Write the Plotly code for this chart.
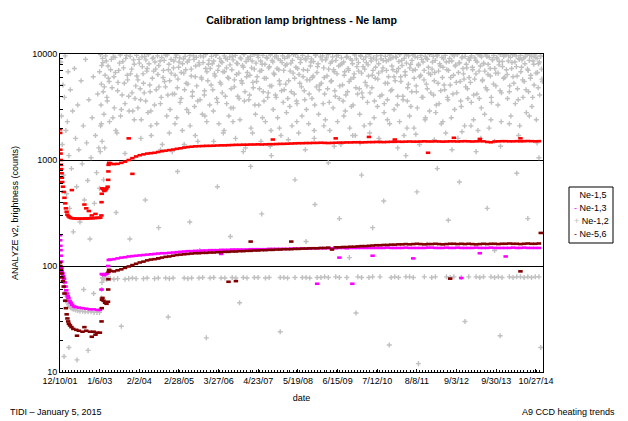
import numpy as np
import pandas as pd
import plotly.graph_objects as go

# x positions are kept as decimal years and converted to dates below

tick_dates = ['2001-12-10', '2003-01-06', '2004-02-02', '2005-02-28', '2006-03-27',
              '2007-04-23', '2008-05-19', '2009-06-15', '2010-07-12', '2011-08-08',
              '2012-09-03', '2013-09-30', '2014-10-27']
tick_labels = ['12/10/01', '1/6/03', '2/2/04', '2/28/05', '3/27/06', '4/23/07', '5/19/08',
               '6/15/09', '7/12/10', '8/8/11', '9/3/12', '9/30/13', '10/27/14']
y_ticks = [10, 100, 1000, 10000]

series_names = ['Ne-1,5', 'Ne-1,3', 'Ne-1,2', 'Ne-5,6']
series_colors = ['#ff0000', '#ff00ff', '#c0c0c0', '#800000']

#%% early period (2001-2003), read point by point

red_early_t = [2001.94, 2001.945, 2001.95, 2001.955, 2001.96, 2001.965, 2001.97, 2001.98, 2001.99,
               2002.0, 2002.02, 2002.04, 2002.06, 2002.08, 2002.1, 2002.12, 2002.14, 2002.17, 2002.2,
               2002.24, 2002.28, 2002.33, 2002.38, 2002.43, 2002.48, 2002.53, 2002.58, 2002.63,
               2002.68, 2002.73, 2002.78, 2002.83, 2002.88, 2002.93, 2002.98, 2003.03,
               2003.06, 2003.065, 2003.07, 2003.08, 2003.11, 2003.14, 2003.17, 2003.2, 2003.23,
               2003.245, 2003.25, 2003.255, 2003.27,
               2002.26, 2002.6, 2002.65, 2002.72, 2002.8, 2002.9]
red_early_v = [1950, 1800, 1250, 1150, 1000, 900, 820, 750, 680,
               620, 560, 500, 440, 390, 350, 325, 305, 295, 288,
               284, 282, 281, 280, 279, 280, 279, 280, 281,
               280, 282, 283, 282, 284, 285, 284, 286,
               300, 400, 480, 540, 530, 510, 520, 540, 560,
               650, 780, 900, 940,
               520, 380, 350, 330, 300, 310]

mag_early_t = [2001.94, 2001.945, 2001.95, 2001.955, 2001.96, 2001.97, 2001.98, 2001.99, 2002.01,
               2002.03, 2002.05, 2002.07, 2002.09, 2002.11, 2002.13, 2002.15, 2002.17, 2002.2,
               2002.23, 2002.27, 2002.32, 2002.37, 2002.45, 2002.55, 2002.65, 2002.75, 2002.85,
               2002.95, 2003.02, 2003.065, 2003.07, 2003.1, 2003.14, 2003.18, 2003.22, 2003.245,
               2003.26]
mag_early_v = [195, 175, 155, 141, 125, 110, 96, 90, 85,
               80, 76, 70, 64, 59, 55, 52, 50, 47,
               45, 43, 41.5, 41, 40.5, 40, 39.5, 39, 39,
               38.5, 38.5, 60, 84, 83, 82, 84, 85, 100,
               114]

dred_early_t = [2001.94, 2001.95, 2001.96, 2001.98, 2002.0, 2002.02, 2002.04, 2002.06, 2002.08,
                2002.1, 2002.12, 2002.14, 2002.16, 2002.18, 2002.21, 2002.25, 2002.3, 2002.38,
                2002.45, 2002.55, 2002.65, 2002.75, 2002.85, 2002.95, 2003.02,
                2003.065, 2003.07, 2003.075, 2003.09, 2003.12, 2003.16, 2003.2, 2003.24,
                2003.245, 2003.25, 2003.255, 2003.27,
                2002.4, 2002.6, 2002.8, 2002.9]
dred_early_v = [108, 100, 92, 85, 78, 72, 64, 55, 47,
                40, 35, 32, 30, 28.5, 27.5, 26.5, 25.5, 25,
                24.5, 24, 24.5, 24, 24, 23.5, 23.5,
                30, 40, 48, 50, 47, 45, 44, 46,
                60, 75, 88, 92,
                22, 26.5, 21.5, 22.5]

gray_early_t = [2001.94, 2001.95, 2001.96, 2001.98, 2002.0, 2002.02, 2002.04, 2002.06, 2002.08,
                2002.1, 2002.12, 2002.14, 2002.17, 2002.2, 2002.23, 2002.27, 2002.31, 2002.36,
                2002.42, 2002.48, 2002.55, 2002.62, 2002.7, 2002.78, 2002.86, 2002.94, 2003.01,
                2003.065, 2003.07, 2003.075, 2003.09, 2003.12, 2003.16, 2003.2, 2003.24]
gray_early_v = [100, 98, 96, 92, 86, 80, 72, 64, 57,
                52, 48, 45, 43, 41.5, 40.5, 39.5, 39, 38.5,
                38, 37.5, 37.5, 37, 37, 37, 36.5, 36.5, 36.5,
                50, 60, 70, 77, 75, 76, 75, 76]

#%% main period, one reading every 0.1 yr from 2003.3 to 2014.9

red_main = [930, 915, 920, 940, 965, 1000, 1040,
            1080, 1110, 1130, 1150, 1160, 1170, 1190, 1210, 1225, 1240,
            1255, 1275, 1290, 1310, 1325, 1335, 1345, 1350, 1355, 1360,
            1360, 1365, 1370, 1375, 1375, 1380, 1385, 1390, 1390, 1395,
            1395, 1400, 1400, 1405, 1400, 1405, 1410, 1410, 1415, 1420,
            1420, 1425, 1430, 1435, 1440, 1440, 1445, 1445, 1450, 1450,
            1455, 1450, 1445, 1450, 1455, 1460, 1460, 1465, 1465, 1470,
            1470, 1465, 1470, 1475, 1475, 1480, 1480, 1475, 1480, 1485,
            1485, 1490, 1485, 1490, 1495, 1490, 1490, 1495, 1500, 1495,
            1495, 1500, 1495, 1490, 1495, 1500, 1500, 1495, 1500, 1505,
            1500, 1495, 1500, 1505, 1500, 1480, 1470, 1495, 1500, 1505,
            1505, 1500, 1500, 1505, 1500, 1505, 1510, 1505, 1500, 1505]

mag_main = [115, 116, 118, 120, 121, 123, 124,
            125, 126, 127, 128, 129, 130, 131, 132, 132, 133,
            134, 135, 136, 137, 138, 138, 139, 139, 140, 140,
            141, 141, 141, 142, 142, 142, 143, 143, 143, 143,
            143, 144, 144, 144, 144, 144, 145, 145, 145, 145,
            145, 145, 146, 146, 146, 146, 146, 146, 147, 147,
            147, 147, 147, 147, 147, 148, 148, 147, 148, 148,
            148, 148, 148, 148, 148, 148, 148, 148, 149, 148,
            148, 148, 148, 149, 148, 148, 148, 148, 148, 149,
            149, 148, 148, 148, 149, 148, 148, 149, 148, 148,
            148, 148, 149, 148, 148, 148, 149, 148, 148, 148,
            148, 148, 149, 148, 148, 149, 148, 148, 148, 148]

dred_main = [90, 89, 91, 93, 96, 99, 102,
             105, 108, 110, 113, 115, 116, 118, 120, 122, 123,
             125, 127, 128, 129, 130, 131, 132, 132, 133, 133,
             134, 134, 135, 135, 136, 136, 137, 137, 138, 138,
             139, 139, 140, 140, 141, 141, 142, 142, 143, 143,
             144, 144, 144, 145, 145, 146, 146, 147, 147, 147,
             148, 148, 149, 143, 150, 150, 151, 151, 152, 152,
             153, 154, 154, 155, 156, 157, 157, 158, 158, 159,
             159, 160, 160, 161, 160, 161, 162, 161, 160, 161,
             161, 162, 161, 160, 161, 162, 162, 161, 162, 161,
             162, 161, 160, 161, 162, 161, 162, 162, 161, 162,
             162, 163, 162, 162, 161, 162, 163, 162, 162, 163]

gray_band = [76, 75, 76, None, 75, 76, 77,
             76, None, 76, 77, None, 76, 77, None, 77, 76,
             77, None, None, 77, 76, 77, None, 77, 78, None,
             77, 78, None, 77, 77, None, 78, 77, None, 78,
             77, None, 78, 78, None, 77, 78, None, None, 78,
             78, 77, None, 78, None, 78, 78, 77, None, 78,
             78, 79, 78, None, 79, 78, None, 78, None, None,
             79, 78, None, 78, 79, None, 79, None, None, 78,
             79, 78, None, 79, 79, 78, None, None, 79, None,
             78, 79, None, None, 79, 78, 79, None, 78, None,
             79, None, 79, 78, 79, None, 79, 78, 79, 78,
             None, 79, 78, 79, 79, 78, 79, 78, 79, 79]

# stray points of the coloured series
red_out_t = [2003.8, 2003.9, 2007.7, 2009.4, 2010.3, 2011.0, 2011.9, 2012.6, 2013.3, 2014.4]
red_out_v = [1600, 740, 1560, 1600, 1650, 1560, 1170, 1620, 1580, 1600]
mag_out_t = [2004.6, 2006.3, 2008.9, 2009.5, 2009.85, 2010.4, 2011.5, 2012.8, 2013.3, 2014.0]
mag_out_v = [118, 130, 68, 120, 68, 125, 118, 77, 132, 123]
dred_out_t = [2006.5, 2006.7, 2007.1, 2008.2, 2012.5, 2014.4, 2014.95]
dred_out_v = [71, 72, 170, 170, 76, 89, 205]

#%% Ne-1,2 scatter (grey crosses)

gray_t = [2001.96, 2001.98, 2002.0, 2002.02, 2002.04, 2002.06, 2002.08, 2002.1, 2002.12, 2002.14,
          2002.16, 2002.18, 2002.2, 2002.22, 2002.25, 2002.28, 2002.3, 2002.33, 2002.36, 2002.39,
          2002.42, 2002.45, 2002.48, 2002.51, 2002.54, 2002.57, 2002.6, 2002.63, 2002.66, 2002.69,
          2002.72, 2002.75, 2002.78, 2002.81, 2002.84, 2002.87, 2002.9, 2002.93, 2002.96, 2002.99,
          2003.01, 2002.05, 2002.18, 2002.4, 2002.58, 2002.7, 2002.85,
          # 2003
          2003.03, 2003.04, 2003.05, 2003.06, 2003.07, 2003.08, 2003.09, 2003.11, 2003.13, 2003.16,
          2003.19, 2003.22, 2003.25, 2003.28, 2003.31, 2003.35, 2003.38, 2003.41, 2003.44, 2003.48,
          2003.51, 2003.55, 2003.58, 2003.62, 2003.66, 2003.7, 2003.74, 2003.77, 2003.81, 2003.85,
          2003.89, 2003.93, 2003.97, 2003.12, 2003.46, 2003.83, 2003.6,
          # 2004
          2004.02, 2004.05, 2004.08, 2004.11, 2004.14, 2004.17, 2004.2, 2004.23, 2004.26, 2004.29,
          2004.32, 2004.35, 2004.38, 2004.41, 2004.44, 2004.47, 2004.5, 2004.53, 2004.56, 2004.59,
          2004.62, 2004.65, 2004.68, 2004.71, 2004.74, 2004.77, 2004.8, 2004.83, 2004.86, 2004.89,
          2004.92, 2004.95, 2004.98, 2004.25, 2004.61, 2004.87,
          # 2005
          2005.01, 2005.04, 2005.07, 2005.1, 2005.13, 2005.16, 2005.19, 2005.22, 2005.25, 2005.28,
          2005.31, 2005.34, 2005.37, 2005.4, 2005.43, 2005.46, 2005.49, 2005.52, 2005.55, 2005.58,
          2005.61, 2005.64, 2005.67, 2005.7, 2005.73, 2005.76, 2005.79, 2005.82, 2005.85, 2005.88,
          2005.91, 2005.94, 2005.97, 2005.12, 2005.45, 2005.72, 2005.9,
          # 2006
          2006.03, 2006.06, 2006.09, 2006.12, 2006.15, 2006.18, 2006.21, 2006.24, 2006.27, 2006.3,
          2006.33, 2006.36, 2006.39, 2006.42, 2006.45, 2006.48, 2006.51, 2006.54, 2006.57, 2006.6,
          2006.63, 2006.66, 2006.69, 2006.72, 2006.75, 2006.78, 2006.81, 2006.84, 2006.87, 2006.9,
          2006.93, 2006.96, 2006.99, 2006.2, 2006.55, 2006.8,
          # 2007
          2007.02, 2007.05, 2007.08, 2007.11, 2007.14, 2007.17, 2007.2, 2007.23, 2007.26, 2007.29,
          2007.32, 2007.35, 2007.38, 2007.41, 2007.44, 2007.47, 2007.5, 2007.53, 2007.56, 2007.59,
          2007.62, 2007.65, 2007.68, 2007.71, 2007.74, 2007.77, 2007.8, 2007.83, 2007.86, 2007.89,
          2007.92, 2007.95, 2007.98, 2007.1, 2007.4, 2007.66, 2007.9,
          # 2008
          2008.01, 2008.04, 2008.07, 2008.1, 2008.13, 2008.16, 2008.19, 2008.22, 2008.25, 2008.28,
          2008.31, 2008.34, 2008.37, 2008.4, 2008.43, 2008.46, 2008.49, 2008.52, 2008.55, 2008.58,
          2008.61, 2008.64, 2008.67, 2008.7, 2008.73, 2008.76, 2008.79, 2008.82, 2008.85, 2008.88,
          2008.91, 2008.94, 2008.97, 2008.3, 2008.6, 2008.84,
          # 2009
          2009.03, 2009.06, 2009.09, 2009.12, 2009.15, 2009.18, 2009.21, 2009.24, 2009.27, 2009.3,
          2009.33, 2009.36, 2009.39, 2009.42, 2009.45, 2009.48, 2009.51, 2009.54, 2009.57, 2009.6,
          2009.63, 2009.66, 2009.69, 2009.72, 2009.75, 2009.78, 2009.81, 2009.84, 2009.87, 2009.9,
          2009.93, 2009.96, 2009.99, 2009.2, 2009.5, 2009.77, 2009.95,
          # 2010
          2010.02, 2010.05, 2010.08, 2010.11, 2010.14, 2010.17, 2010.2, 2010.23, 2010.26, 2010.29,
          2010.32, 2010.35, 2010.38, 2010.41, 2010.44, 2010.47, 2010.5, 2010.53, 2010.56, 2010.59,
          2010.62, 2010.65, 2010.68, 2010.71, 2010.74, 2010.77, 2010.8, 2010.83, 2010.86, 2010.89,
          2010.92, 2010.95, 2010.98, 2010.1, 2010.4, 2010.7, 2010.85,
          # 2011
          2011.01, 2011.04, 2011.07, 2011.1, 2011.13, 2011.16, 2011.19, 2011.22, 2011.25, 2011.28,
          2011.31, 2011.34, 2011.37, 2011.4, 2011.43, 2011.46, 2011.49, 2011.52, 2011.55, 2011.58,
          2011.61, 2011.64, 2011.67, 2011.7, 2011.73, 2011.76, 2011.79, 2011.82, 2011.85, 2011.88,
          2011.91, 2011.94, 2011.97, 2011.3, 2011.6, 2011.64, 2011.88,
          # 2012
          2012.02, 2012.05, 2012.08, 2012.11, 2012.14, 2012.17, 2012.2, 2012.23, 2012.26, 2012.29,
          2012.32, 2012.35, 2012.38, 2012.41, 2012.44, 2012.47, 2012.5, 2012.53, 2012.56, 2012.59,
          2012.62, 2012.65, 2012.68, 2012.71, 2012.74, 2012.77, 2012.8, 2012.83, 2012.86, 2012.89,
          2012.92, 2012.95, 2012.98, 2012.15, 2012.45, 2012.75, 2012.9,
          # 2013
          2013.01, 2013.04, 2013.07, 2013.1, 2013.13, 2013.16, 2013.19, 2013.22, 2013.25, 2013.28,
          2013.31, 2013.34, 2013.37, 2013.4, 2013.43, 2013.46, 2013.49, 2013.52, 2013.55, 2013.58,
          2013.61, 2013.64, 2013.67, 2013.7, 2013.73, 2013.76, 2013.79, 2013.82, 2013.85, 2013.88,
          2013.91, 2013.94, 2013.97, 2013.2, 2013.5, 2013.7, 2013.85,
          # 2014
          2014.02, 2014.05, 2014.08, 2014.11, 2014.14, 2014.17, 2014.2, 2014.23, 2014.26, 2014.29,
          2014.32, 2014.35, 2014.38, 2014.41, 2014.44, 2014.47, 2014.5, 2014.53, 2014.56, 2014.59,
          2014.62, 2014.65, 2014.68, 2014.71, 2014.74, 2014.77, 2014.8, 2014.83, 2014.86, 2014.89,
          2014.92, 2014.95, 2014.98, 2014.3, 2014.6, 2014.9, 2014.95]

gray_v = [8400, 2600, 1400, 5100, 720, 3900, 9600, 1900, 480, 2300,
          6800, 1100, 350, 4600, 830, 2900, 210, 7300, 1600, 560,
          3300, 1250, 260, 5600, 920, 2100, 420, 8900, 1450, 640,
          3700, 180, 1050, 2500, 6100, 390, 1700, 760, 4200, 1300,
          540, 14, 17, 13, 60, 16, 55,
          # 2003
          1200, 2100, 3300, 5200, 7800, 1500, 9100, 4400, 2700, 6300,
          8600, 3600, 5900, 2300, 7100, 4800, 9400, 3100, 6700, 1800,
          5400, 8200, 2600, 4100, 7400, 3400, 9700, 5700, 2900, 6500,
          4300, 8800, 3800, 650, 320, 180, 27,
          # 2004
          6200, 3100, 8900, 4700, 2400, 7600, 5300, 9500, 3600, 6900,
          2800, 8100, 4400, 1700, 5900, 9200, 3300, 7200, 2200, 6400,
          4900, 8600, 3900, 1400, 7000, 5500, 9800, 2600, 4100, 8000,
          3000, 6600, 1200, 420, 230, 33,
          # 2005
          7400, 4200, 9300, 2500, 5800, 8400, 3500, 6700, 1900, 9000,
          4600, 7100, 3000, 5200, 8800, 2100, 6200, 4000, 9600, 3200,
          7700, 5000, 1500, 8300, 3700, 6000, 2700, 9400, 4500, 7300,
          2300, 5600, 8700, 780, 260, 140, 21,
          # 2006
          5100, 8100, 2900, 6500, 9700, 3800, 7000, 2200, 5400, 8500,
          4300, 1800, 6800, 9100, 3400, 6000, 2600, 7900, 4700, 9500,
          3100, 5700, 1600, 8200, 4000, 6600, 2400, 9000, 5300, 7500,
          3600, 1300, 6100, 560, 190, 45,
          # 2007
          9200, 3700, 6300, 2000, 8600, 4800, 7200, 2700, 5500, 9800,
          3300, 6900, 1500, 8000, 4400, 5900, 2300, 9300, 3900, 7400,
          5000, 1900, 8700, 3000, 6400, 4100, 9600, 2500, 7100, 5200,
          1700, 8300, 3500, 870, 310, 1100, 24,
          # 2008
          4600, 7800, 2800, 9400, 5600, 3200, 8200, 2100, 6600, 4200,
          9900, 3600, 7300, 1800, 5300, 8900, 2600, 6100, 4500, 9100,
          3000, 7000, 2200, 5700, 8400, 3800, 6200, 1600, 9700, 4900,
          7600, 2700, 5100, 650, 170, 380,
          # 2009
          8800, 3400, 6000, 2400, 9200, 4700, 7200, 1900, 5500, 8500,
          3100, 6800, 4000, 9600, 2300, 7700, 5000, 1400, 8100, 3600,
          6300, 2900, 9300, 4400, 7000, 2000, 5800, 8700, 3300, 6500,
          1700, 9000, 4200, 940, 280, 120, 36,
          # 2010
          6900, 2700, 9500, 4300, 7600, 2100, 5400, 8300, 3500, 6200,
          1800, 9100, 4800, 7000, 2500, 5900, 8800, 3200, 6600, 1500,
          9700, 4100, 7400, 2800, 5300, 8600, 3700, 6100, 2200, 9000,
          4600, 7100, 3000, 720, 230, 410, 18,
          # 2011
          5600, 9300, 3300, 7300, 2300, 6100, 8700, 4000, 1700, 6800,
          9800, 3600, 5200, 2600, 8000, 4400, 7000, 2000, 9400, 5000,
          3100, 7800, 1400, 6300, 8900, 3900, 5700, 2400, 9100, 4700,
          7500, 2900, 6400, 1100, 500, 12, 160,
          # 2012
          8400, 4100, 6700, 2800, 9600, 5300, 3400, 7700, 2200, 6000,
          9000, 4600, 1800, 7100, 3700, 8500, 5100, 2500, 9900, 6300,
          3000, 7900, 4300, 1600, 8200, 5500, 3200, 9400, 6500, 2100,
          4900, 7400, 3800, 830, 270, 620, 30,
          # 2013
          6000, 9200, 3500, 7500, 2400, 5800, 8700, 4200, 1900, 6900,
          9700, 3100, 5600, 8100, 2700, 4800, 9500, 6400, 2000, 7300,
          3900, 8900, 5200, 1500, 6600, 9300, 3300, 7900, 4500, 2300,
          8500, 5900, 9800, 1200, 350, 140, 22,
          # 2014
          7100, 3800, 9600, 5000, 2600, 8300, 6100, 9900, 3400, 7600,
          4700, 9100, 2100, 6800, 8800, 3900, 5500, 9400, 2800, 7200,
          4400, 9700, 6300, 3200, 8600, 5100, 9300, 2400, 6700, 8100,
          4100, 9500, 5800, 750, 280, 1050, 17]

# second pass over the dense upper cloud (3000-10000) after 2003
gray_top_t = [
    2003.01, 2003.035, 2003.06, 2003.1, 2003.14, 2003.175, 2003.21, 2003.24, 2003.27, 2003.33,
    2003.37, 2003.4, 2003.43, 2003.5, 2003.53, 2003.57, 2003.6, 2003.64, 2003.68, 2003.72,
    2003.76, 2003.8, 2003.84, 2003.88, 2003.91, 2003.95, 2003.99,
    2004.015, 2004.05, 2004.09, 2004.12, 2004.16, 2004.19, 2004.22, 2004.265, 2004.3, 2004.33,
    2004.37, 2004.4, 2004.44, 2004.475, 2004.51, 2004.545, 2004.58, 2004.615, 2004.66, 2004.695,
    2004.73, 2004.76, 2004.795, 2004.84, 2004.875, 2004.91, 2004.945, 2004.985,
    2005.02, 2005.055, 2005.085, 2005.115, 2005.15, 2005.18, 2005.215, 2005.255, 2005.29, 2005.325,
    2005.355, 2005.385, 2005.42, 2005.455, 2005.49, 2005.525, 2005.565, 2005.6, 2005.63, 2005.665,
    2005.705, 2005.74, 2005.775, 2005.81, 2005.845, 2005.88, 2005.915, 2005.955, 2005.99,
    2006.005, 2006.04, 2006.075, 2006.1, 2006.135, 2006.165, 2006.2, 2006.235, 2006.26, 2006.295,
    2006.325, 2006.35, 2006.385, 2006.415, 2006.445, 2006.47, 2006.505, 2006.535, 2006.565, 2006.59,
    2006.625, 2006.655, 2006.685, 2006.715, 2006.745, 2006.785, 2006.815, 2006.85, 2006.88, 2006.915,
    2006.945, 2006.975,
    2007.01, 2007.04, 2007.07, 2007.095, 2007.125, 2007.16, 2007.19, 2007.215, 2007.245, 2007.275,
    2007.305, 2007.34, 2007.37, 2007.395, 2007.43, 2007.46, 2007.485, 2007.52, 2007.545, 2007.575,
    2007.61, 2007.635, 2007.67, 2007.7, 2007.725, 2007.755, 2007.79, 2007.815, 2007.845, 2007.875,
    2007.905, 2007.935, 2007.965, 2007.995,
    2008.02, 2008.05, 2008.08, 2008.105, 2008.14, 2008.17, 2008.2, 2008.23, 2008.26, 2008.29,
    2008.325, 2008.355, 2008.38, 2008.41, 2008.445, 2008.475, 2008.505, 2008.53, 2008.565, 2008.595,
    2008.625, 2008.655, 2008.685, 2008.715, 2008.745, 2008.775, 2008.8, 2008.835, 2008.865, 2008.895,
    2008.925, 2008.955, 2008.985,
    2009.01, 2009.045, 2009.075, 2009.1, 2009.13, 2009.165, 2009.195, 2009.225, 2009.255, 2009.285,
    2009.315, 2009.345, 2009.375, 2009.405, 2009.435, 2009.465, 2009.495, 2009.525, 2009.555, 2009.585,
    2009.615, 2009.645, 2009.675, 2009.705, 2009.735, 2009.765, 2009.795, 2009.825, 2009.855, 2009.885,
    2009.915, 2009.945, 2009.975,
    2010.015, 2010.04, 2010.07, 2010.1, 2010.13, 2010.155, 2010.185, 2010.215, 2010.245, 2010.275,
    2010.305, 2010.33, 2010.36, 2010.39, 2010.42, 2010.45, 2010.48, 2010.51, 2010.54, 2010.565,
    2010.595, 2010.625, 2010.655, 2010.685, 2010.715, 2010.745, 2010.775, 2010.805, 2010.83, 2010.86,
    2010.89, 2010.92, 2010.95, 2010.98,
    2011.02, 2011.05, 2011.08, 2011.11, 2011.135, 2011.165, 2011.195, 2011.225, 2011.255, 2011.285,
    2011.315, 2011.345, 2011.375, 2011.405, 2011.435, 2011.465, 2011.495, 2011.525, 2011.555, 2011.585,
    2011.615, 2011.645, 2011.675, 2011.705, 2011.735, 2011.765, 2011.795, 2011.825, 2011.855, 2011.885,
    2011.915, 2011.945, 2011.975,
    2012.01, 2012.04, 2012.07, 2012.095, 2012.125, 2012.155, 2012.185, 2012.215, 2012.245, 2012.275,
    2012.305, 2012.335, 2012.365, 2012.395, 2012.425, 2012.455, 2012.485, 2012.515, 2012.545, 2012.575,
    2012.605, 2012.635, 2012.665, 2012.695, 2012.725, 2012.755, 2012.785, 2012.815, 2012.845, 2012.875,
    2012.905, 2012.935, 2012.965, 2012.995,
    2013.015, 2013.045, 2013.075, 2013.105, 2013.135, 2013.165, 2013.195, 2013.225, 2013.255, 2013.285,
    2013.315, 2013.345, 2013.375, 2013.405, 2013.435, 2013.465, 2013.495, 2013.525, 2013.555, 2013.585,
    2013.615, 2013.645, 2013.675, 2013.705, 2013.735, 2013.765, 2013.795, 2013.825, 2013.855, 2013.885,
    2013.915, 2013.945, 2013.975,
    2014.01, 2014.04, 2014.07, 2014.1, 2014.13, 2014.16, 2014.19, 2014.22, 2014.25, 2014.28,
    2014.31, 2014.34, 2014.37, 2014.4, 2014.43, 2014.46, 2014.49, 2014.52, 2014.55, 2014.58,
    2014.61, 2014.64, 2014.67, 2014.7, 2014.73, 2014.76, 2014.79, 2014.82, 2014.85, 2014.88,
    2014.91, 2014.94, 2014.97, 2014.995]

gray_top_v = [
    6800, 9900, 2200, 8300, 4900, 9600, 3900, 7700, 5500, 8900,
    2500, 6100, 9300, 4500, 7000, 9800, 3000, 8500, 5300, 9100,
    6300, 4000, 9500, 7200, 2900, 8000, 5000,
    9700, 5700, 8200, 3700, 9400, 6500, 4300, 8800, 7300, 9900,
    5100, 2900, 9100, 6900, 8400, 4600, 9600, 7800, 3400, 9300,
    6000, 8700, 4900, 9800, 7100, 5600, 8900, 4200,
    8600, 6300, 9800, 4800, 7500, 9200, 3800, 8100, 6600, 9500,
    5300, 8400, 2800, 9700, 7200, 4400, 8900, 6100, 9300, 3600,
    7900, 9600, 5800, 8300, 4100, 9900, 6800, 8000, 3300,
    7300, 9500, 4600, 8600, 6200, 9800, 3500, 7700, 9100, 5200,
    8300, 6800, 9600, 4000, 7400, 8900, 5900, 9400, 3100, 7100,
    8800, 4900, 9700, 6400, 8100, 3800, 9200, 5600, 7800, 9900,
    4400, 8500,
    6700, 8900, 4100, 9500, 7400, 5400, 9900, 3300, 8200, 6100,
    9300, 4700, 8600, 7000, 9700, 3600, 8000, 5900, 9100, 4300,
    7600, 9800, 5000, 8400, 6600, 9400, 3900, 7300, 9000, 5600,
    8700, 4500, 9600, 7000,
    9100, 5200, 8000, 3800, 9600, 6900, 4400, 8700, 9900, 5900,
    7500, 3400, 9300, 6400, 8300, 4900, 9700, 7100, 3700, 8800,
    5700, 9500, 4200, 7700, 9000, 6000, 8500, 3300, 9800, 6700,
    8100, 4600, 9400,
    5300, 9600, 7400, 4200, 8800, 6200, 9900, 3500, 8200, 5600,
    9400, 7100, 4500, 8700, 6500, 9700, 3800, 7900, 9200, 5100,
    8400, 6800, 4100, 9500, 7300, 5500, 9000, 3200, 8100, 6000,
    9800, 4800, 7600,
    8300, 4700, 9700, 6600, 3900, 8900, 7200, 9400, 5000, 7900,
    9900, 4300, 8600, 6300, 9200, 3600, 7500, 9600, 5800, 8100,
    4000, 9000, 6900, 8700, 3400, 9500, 7000, 5300, 8800, 9800,
    4500, 7700, 9300, 6100,
    9400, 6800, 4000, 8500, 9900, 5500, 7800, 3700, 9100, 6300,
    8200, 4800, 9600, 7400, 3200, 8700, 9800, 5900, 7100, 4400,
    9300, 8000, 6100, 9700, 3900, 8400, 7000, 9500, 5200, 8900,
    6600, 9900, 4300,
    7200, 9500, 5600, 8700, 3300, 9800, 6900, 8100, 4500, 9300,
    7500, 5100, 9700, 8400, 3900, 7000, 9100, 6000, 8600, 4200,
    9600, 7700, 5400, 9900, 6700, 8300, 3600, 9200, 7300, 5800,
    9500, 8000, 4700, 9000,
    8700, 5400, 9600, 7100, 4100, 9200, 6500, 8400, 9900, 3800,
    7700, 9400, 5700, 8200, 6900, 9800, 4600, 8000, 9300, 6200,
    3500, 8800, 9700, 7300, 5000, 9000, 6600, 8500, 9900, 4300,
    7600, 9500, 6000,
    9800, 6400, 8600, 4400, 9300, 7300, 9900, 5300, 8400, 9600,
    6200, 3700, 8900, 9700, 7500, 5700, 9200, 8100, 4600, 9900,
    7000, 8700, 5900, 9500, 3900, 8000, 9800, 6600, 9100, 4800,
    8400, 9600, 7200, 5500]

# points just above the Ne-1,5 curve (1000-3000)
gray_mid_t = [2003.15, 2003.45, 2003.7, 2003.95, 2004.13, 2004.4, 2004.66, 2004.9, 2005.05, 2005.3,
              2005.6, 2005.86, 2006.1, 2006.38, 2006.62, 2006.9, 2007.15, 2007.42, 2007.63, 2007.88,
              2008.12, 2008.35, 2008.58, 2008.82, 2009.08, 2009.36, 2009.62, 2009.86, 2010.06, 2010.33,
              2010.57, 2010.8, 2011.08, 2011.33, 2011.57, 2011.83, 2012.07, 2012.3, 2012.55, 2012.82,
              2013.06, 2013.33, 2013.6, 2013.86, 2014.1, 2014.35, 2014.64, 2014.85]
gray_mid_v = [1300, 1900, 1150, 2400, 1600, 2100, 1250, 1800, 2200, 1400,
              1700, 2600, 1500, 1900, 2300, 1200, 1800, 2500, 1350, 2000,
              1550, 2300, 1250, 1900, 2100, 1350, 2600, 1700, 1450, 2200,
              1600, 2400, 1300, 2000, 1750, 2500, 1550, 2300, 1250, 1850,
              2100, 1600, 2400, 1350, 2200, 1700, 2600, 1450]


def to_date(years):
    out = []
    for t in years:
        y = int(t)
        out.append(pd.Timestamp(year=y, month=1, day=1) + pd.Timedelta(days=(t - y) * 365.25))
    return out


main_t = [round(2003.3 + 0.1 * i, 2) for i in range(len(red_main))]

red_t = red_early_t + main_t + red_out_t
red_v = red_early_v + red_main + red_out_v
mag_t = mag_early_t + main_t + mag_out_t
mag_v = mag_early_v + mag_main + mag_out_v
dred_t = dred_early_t + main_t + dred_out_t
dred_v = dred_early_v + dred_main + dred_out_v
ne12_t = gray_t + gray_top_t + gray_mid_t + gray_early_t + main_t
ne12_v = gray_v + gray_top_v + gray_mid_v + gray_early_v + gray_band

font = 'Liberation Sans, Arial, sans-serif'

# the page puts the figure 8px in from the top-left corner, so the figure is
# 8px smaller than the window and all margins are measured from there
W, H = 620, 413
ML, MR, MT, MB = 52, 85, 46, 49
pw, ph = W - ML - MR, H - MT - MB


def px(x):
    return (x - 8 - ML) / pw


def py(y):
    return (H - MB - (y - 8)) / ph


fig = go.Figure()

dash = dict(symbol='line-ew', size=3.2, line=dict(width=2.6))
fig.add_trace(go.Scatter(x=to_date(ne12_t), y=ne12_v, mode='markers', name=series_names[2],
                         marker=dict(symbol='cross-thin', size=3.6,
                                     line=dict(color=series_colors[2], width=1.4))))
fig.add_trace(go.Scatter(x=to_date(mag_t), y=mag_v, mode='markers', name=series_names[1],
                         marker=dict(dash, line=dict(color=series_colors[1], width=2.6))))
fig.add_trace(go.Scatter(x=to_date(dred_t), y=dred_v, mode='markers', name=series_names[3],
                         marker=dict(dash, line=dict(color=series_colors[3], width=2.6))))
fig.add_trace(go.Scatter(x=to_date(red_t), y=red_v, mode='markers', name=series_names[0],
                         marker=dict(dash, line=dict(color=series_colors[0], width=2.6))))

# small boxed key at the right, like the original
key_sym = ['-', '-', '+', '-']
key_col = ['white', series_colors[1], series_colors[2], series_colors[3]]
key_rows = [195, 208, 221, 234]
annotations = []
for name, sym, col, row in zip(series_names, key_sym, key_col, key_rows):
    annotations.append(dict(text='<span style="color:%s">%s</span> %s' % (col, sym, name),
                            xref='paper', yref='paper', x=px(572), y=py(row),
                            xanchor='left', yanchor='middle', showarrow=False,
                            font=dict(size=9)))
annotations += [
    dict(text='TIDI – January 5, 2015', xref='paper', yref='paper', x=px(8), y=py(412),
         xanchor='left', yanchor='middle', showarrow=False, font=dict(size=9)),
    dict(text='A9 CCD heating trends', xref='paper', yref='paper', x=px(617), y=py(412),
         xanchor='right', yanchor='middle', showarrow=False, font=dict(size=9)),
]

fig.update_layout(
    width=W, height=H,
    margin=dict(l=ML, r=MR, t=MT, b=MB, autoexpand=False),
    paper_bgcolor='white', plot_bgcolor='white',
    font=dict(family=font, size=9, color='black'),
    title=dict(text='<b>Calibration lamp brightness - Ne lamp</b>', x=0.5, xref='paper',
               y=1 - (20 - 8) / H, yanchor='middle', font=dict(size=10.6)),
    showlegend=False,
    annotations=annotations,
    shapes=[dict(type='rect', xref='paper', yref='paper', x0=px(569), x1=px(613),
                 y0=py(187), y1=py(243), line=dict(color='black', width=1))],
)

fig.update_xaxes(type='date', range=['2001-12-10', '2015-01-05'],
                 tickmode='array', tickvals=tick_dates, ticktext=tick_labels,
                 ticks='inside', ticklen=3, tickcolor='black',
                 minor=dict(ticks='inside', ticklen=2, dtick='M1', tick0='2001-12-01', tickcolor='black'),
                 showgrid=False, zeroline=False,
                 showline=True, mirror=True, linecolor='black', linewidth=1,
                 title=dict(text='date', standoff=9, font=dict(size=9)))

fig.update_yaxes(type='log', range=[1, 4], tickmode='array', tickvals=y_ticks,
                 ticktext=[str(v) for v in y_ticks],
                 ticks='inside', ticklen=4, tickcolor='black',
                 minor=dict(ticks='inside', ticklen=3, dtick='D1', tickcolor='black'),
                 showgrid=True, gridcolor='black', gridwidth=1, zeroline=False,
                 showline=True, mirror=True, linecolor='black', linewidth=1,
                 title=dict(text='ANALYZE v2, brightness (counts)', standoff=12, font=dict(size=9)))

fig.write_html('out.html')
